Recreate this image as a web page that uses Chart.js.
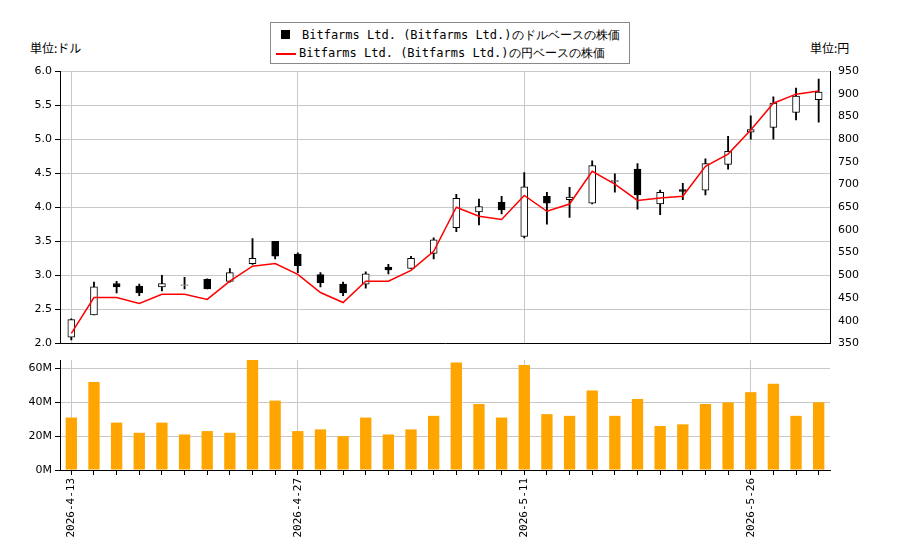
<!DOCTYPE html>
<html><head><meta charset="utf-8">
<script src="https://cdn.jsdelivr.net/npm/chart.js@4.4.0/dist/chart.umd.min.js"></script>
<style>
body{margin:0;background:#fff;width:900px;height:550px;position:relative;overflow:hidden;font-family:"DejaVu Sans Mono",monospace}
#c1{position:absolute;left:0;top:60px}
#c2{position:absolute;left:0;top:350px}
#legend{position:absolute;left:270px;top:22px;width:358px;height:40px;border:1px solid #888;background:#fff;font-size:12px;color:#000}
#legend div{position:absolute;left:8px;white-space:nowrap}
.u{position:absolute;top:39px;font-size:12px;font-family:"Noto Sans CJK JP",sans-serif}
</style></head><body>
<div id="legend">
 <div style="top:4px"><span style="display:inline-block;width:9px;height:9px;background:#000;margin:0 12px 0 2px"></span>Bitfarms Ltd. (Bitfarms Ltd.)のドルベースの株価</div>
 <div style="top:22px"><span style="display:inline-block;width:20px;height:2px;background:#f00;vertical-align:middle;margin:0 3px 0 -3px"></span>Bitfarms Ltd. (Bitfarms Ltd.)の円ベースの株価</div>
</div>
<div class="u" style="left:30px">単位:ドル</div>
<div class="u" style="left:810px">単位:円</div>
<canvas id="c1" width="900" height="293"></canvas>
<canvas id="c2" width="900" height="200"></canvas>
<script>
const dates=["2026-4-13","2026-4-14","2026-4-15","2026-4-16","2026-4-17","2026-4-20","2026-4-21","2026-4-22","2026-4-23","2026-4-24","2026-4-27","2026-4-28","2026-4-29","2026-4-30","2026-5-1","2026-5-4","2026-5-5","2026-5-6","2026-5-7","2026-5-8","2026-5-11","2026-5-12","2026-5-13","2026-5-14","2026-5-15","2026-5-18","2026-5-19","2026-5-20","2026-5-21","2026-5-22","2026-5-26","2026-5-27","2026-5-28","2026-5-29"];
const openP=[2.09,2.42,2.88,2.84,2.83,2.85,2.94,2.91,3.17,3.50,3.31,3.01,2.87,2.87,3.12,3.10,3.32,3.70,3.93,4.07,3.57,4.16,4.11,4.06,4.38,4.56,4.05,4.26,4.25,4.63,5.10,5.17,5.39,5.58];
const closeP=[2.35,2.83,2.83,2.74,2.88,2.86,2.80,3.04,3.25,3.28,3.14,2.89,2.74,3.02,3.08,3.25,3.52,4.13,4.01,3.96,4.30,4.06,4.15,4.61,4.39,4.18,4.22,4.23,4.64,4.82,5.14,5.53,5.63,5.69];
const highP=[2.36,2.90,2.91,2.87,3.00,2.97,2.95,3.10,3.54,3.50,3.33,3.04,2.90,3.05,3.16,3.28,3.55,4.19,4.12,4.16,4.51,4.22,4.29,4.68,4.49,4.64,4.25,4.35,4.71,5.04,5.34,5.62,5.75,5.88];
const lowP=[2.05,2.42,2.74,2.70,2.77,2.80,2.80,2.90,3.16,3.24,3.04,2.83,2.70,2.81,3.02,3.10,3.24,3.64,3.74,3.90,3.55,3.75,3.85,4.05,4.22,3.97,3.89,4.11,4.18,4.56,5.00,5.00,5.28,5.25];
const yenClose=[372,451,451,438,458,458,447,487,520,526,502,462,440,487,487,511,553,650,630,623,676,641,657,729,701,665,670,674,740,767,820,879,899,906];
const volumeM=[31,52,28,22,28,21,23,22,65,41,23,24,20,31,21,24,32,63.5,39,31,62,33,32,47,32,42,26,27,39,40,46,51,32,40];
const volTicks=[0,20,40,60];
const labelIdx=[0,10,20,30];

const up=openP.map((o,i)=>closeP[i]>=o);
const gridCol=c=>labelIdx.includes(c.index)?'#c8c8c8':'rgba(0,0,0,0)';
const fixW=w=>function(s){s.width=w;};
new Chart(document.getElementById('c1'),{
 data:{labels:dates,datasets:[
  {type:'line',data:yenClose,yAxisID:'y2',borderColor:'#f00',borderWidth:1.5,pointRadius:0,order:0},
  {type:'bar',data:lowP.map((l,i)=>[l,highP[i]]),yAxisID:'y',backgroundColor:'#000',barThickness:1.2,grouped:false,order:2},
  {type:'bar',data:openP.map((o,i)=>[o,closeP[i]]),yAxisID:'y',backgroundColor:up.map(u=>u?'#fff':'#000'),borderColor:'#000',borderWidth:1,borderSkipped:false,barThickness:7,grouped:false,order:1}
 ]},
 options:{responsive:false,animation:false,events:[],layout:{padding:{top:11,bottom:0}},
  plugins:{legend:{display:false},tooltip:{enabled:false}},
  scales:{
   x:{offset:true,grid:{offset:false,color:gridCol,drawTicks:false},border:{color:'#000'},ticks:{display:false},afterFit:s=>{s.height=0;}},
   y:{position:'left',min:2,max:6,ticks:{stepSize:0.5,color:'#000',font:{size:11,family:'DejaVu Sans'},callback:v=>v.toFixed(1)},grid:{color:'#c8c8c8',tickColor:'#000',tickLength:5},border:{color:'#000'},afterFit:fixW(60)},
   y2:{position:'right',min:350,max:950,ticks:{stepSize:50,color:'#000',font:{size:11,family:'DejaVu Sans'}},grid:{display:false,tickColor:'#000',tickLength:5},border:{color:'#000'},afterFit:fixW(70)}
  }}
});
new Chart(document.getElementById('c2'),{
 type:'bar',
 data:{labels:dates,datasets:[{data:volumeM,backgroundColor:'#ffa500',barPercentage:0.5,categoryPercentage:1}]},
 options:{responsive:false,animation:false,events:[],layout:{padding:{top:10,right:70}},
  plugins:{legend:{display:false},tooltip:{enabled:false}},
  scales:{
   x:{grid:{offset:false,color:gridCol,tickColor:'#000',tickLength:5},border:{color:'#000'},ticks:{autoSkip:false,maxRotation:90,minRotation:90,color:'#000',font:{size:11,family:'DejaVu Sans Mono'},callback:(v,i)=>labelIdx.includes(i)?dates[i]:''},afterFit:s=>{s.height=80;}},
   y:{min:0,max:65,afterBuildTicks:s=>{s.ticks=volTicks.map(v=>({value:v}));},ticks:{color:'#000',font:{size:11,family:'DejaVu Sans'},callback:v=>v+'M'},grid:{color:'#c8c8c8',tickColor:'#000',tickLength:5},border:{color:'#000'},afterFit:fixW(60)}
  }}
});
</script></body></html>
